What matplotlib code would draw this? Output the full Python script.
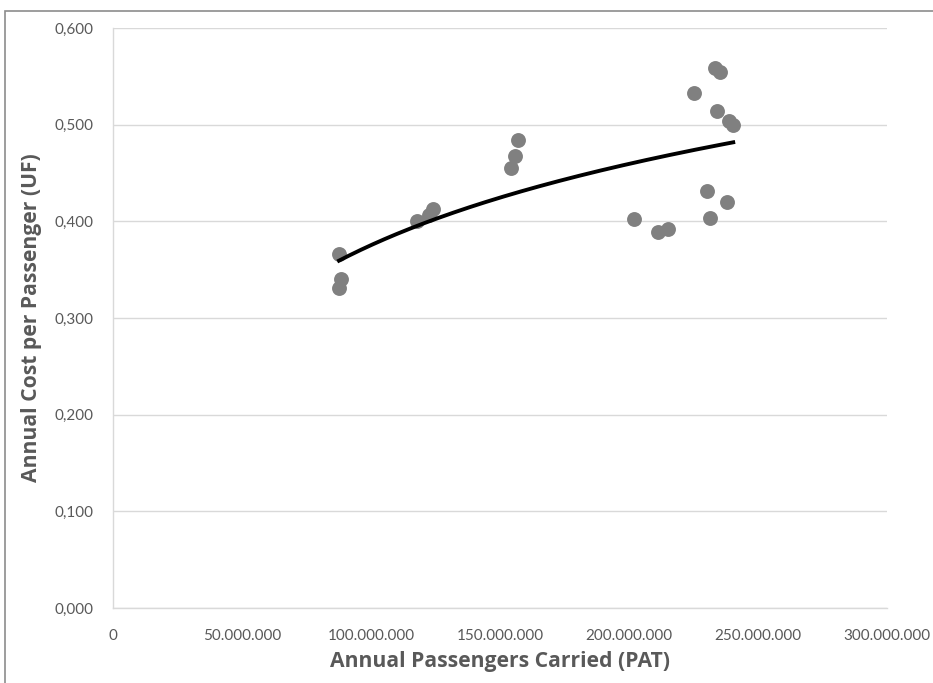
import numpy as np
import matplotlib
matplotlib.use("Agg")
import matplotlib.pyplot as plt
from matplotlib.ticker import FuncFormatter
from matplotlib.patches import Rectangle

# Annual passengers carried (PAT) and annual cost per passenger (UF)
passengers = [
    87.6e6, 88.4e6, 87.6e6,
    117.7e6, 122.6e6, 124.2e6,
    154.3e6, 156.0e6, 157.1e6,
    202.1e6, 211.4e6, 215.2e6,
    225.2e6, 230.2e6, 231.3e6,
    233.3e6, 235.3e6, 234.2e6,
    238.1e6, 238.9e6, 240.4e6,
]
cost_per_passenger = [
    0.366, 0.340, 0.331,
    0.400, 0.407, 0.413,
    0.455, 0.468, 0.484,
    0.402, 0.389, 0.392,
    0.533, 0.431, 0.403,
    0.559, 0.554, 0.514,
    0.420, 0.504, 0.500,
]

x_ticks = [0, 50e6, 100e6, 150e6, 200e6, 250e6, 300e6]
y_ticks = [0.0, 0.1, 0.2, 0.3, 0.4, 0.5, 0.6]

x = np.array(passengers)
y = np.array(cost_per_passenger)

# Logarithmic trend line: y = a + b*ln(x)
b, a = np.polyfit(np.log(x), y, 1)
xt = np.linspace(x.min(), x.max(), 200)
yt = a + b * np.log(xt)

plt.rcParams["font.family"] = ["Lato", "DejaVu Sans"]

text_gray = "#595959"
grid_gray = "#d9d9d9"
title_font = dict(family=["Open Sans", "DejaVu Sans"], size=15.2, weight="bold", color=text_gray)

fig = plt.figure(figsize=(9.33, 6.83), dpi=100)
fig.patches.append(Rectangle((5 / 933, -0.05), 1.2, 1.05 - 11 / 683,
                             transform=fig.transFigure, fill=False,
                             edgecolor="#8c8c8c", linewidth=1.2))
ax = fig.add_axes([113 / 933, (683 - 608) / 683, (887 - 113) / 933, (608 - 28) / 683])

ax.scatter(x, y, s=115, color="#808080", zorder=3, linewidths=0)
ax.plot(xt, yt, color="black", linewidth=2.8, zorder=4)

ax.set_xlim(0, 300e6)
ax.set_ylim(0, 0.6)
ax.set_xticks(x_ticks)
ax.set_yticks(y_ticks)

ax.xaxis.set_major_formatter(FuncFormatter(lambda v, p: f"{int(round(v)):,}".replace(",", ".")))
ax.yaxis.set_major_formatter(FuncFormatter(lambda v, p: f"{v:.3f}".replace(".", ",")))

ax.grid(axis="y", color=grid_gray, linewidth=1.0, zorder=0)
ax.set_axisbelow(True)
for side in ["top", "right"]:
    ax.spines[side].set_visible(False)
for side in ["left", "bottom"]:
    ax.spines[side].set_color(grid_gray)
    ax.spines[side].set_linewidth(1.0)

ax.tick_params(axis="both", length=0, colors=text_gray, labelsize=11)
ax.tick_params(axis="x", pad=15)
ax.tick_params(axis="y", pad=14)

ax.set_xlabel("Annual Passengers Carried (PAT)", fontdict=title_font, labelpad=6)
ax.set_ylabel("Annual Cost per Passenger (UF)", fontdict=title_font, labelpad=9)

fig.savefig("out.png", dpi=100, facecolor="white")
